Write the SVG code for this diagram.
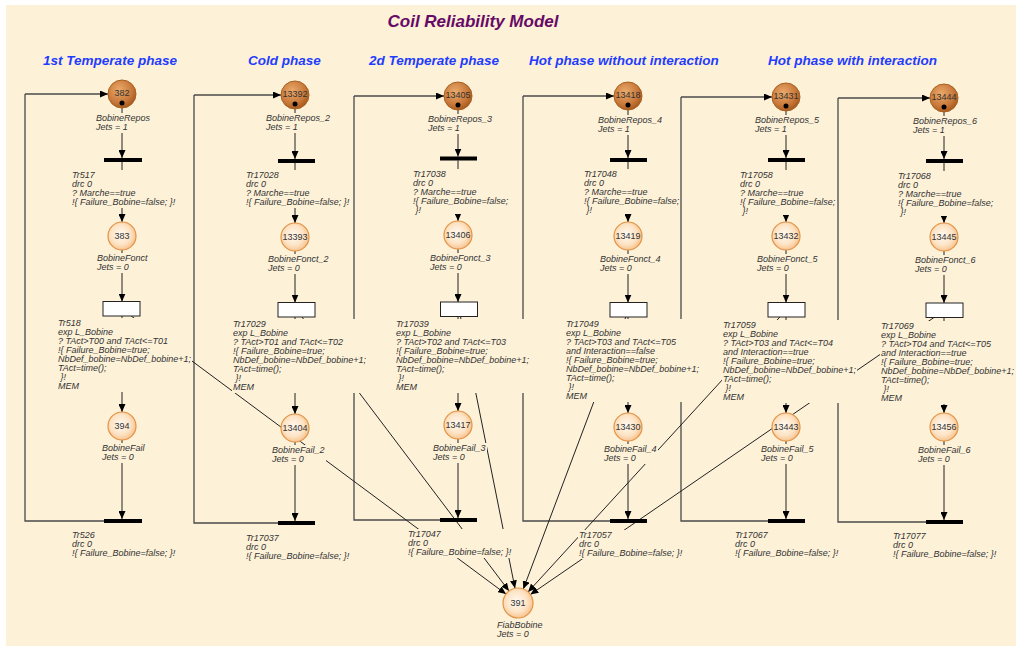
<svg xmlns="http://www.w3.org/2000/svg" width="1020" height="648" viewBox="0 0 1020 648">
<defs>
<style>
.bg{fill:#fdf1d8}
.tb{fill:#fdf1d8}
.l{font-family:"Liberation Sans",Arial,sans-serif;font-size:9px;font-style:italic;fill:#333}
.num{font-family:"Liberation Sans",Arial,sans-serif;font-size:9px;fill:#333;text-anchor:middle}
.c{stroke:#222;stroke-width:1;fill:none}
.loop{stroke:#4a4a4a;stroke-width:1.3;fill:none}
.bar{fill:#000}
.rx{fill:#fff;stroke:#222;stroke-width:1}
.pm{fill:url(#gm);stroke:#a8611f;stroke-width:1}
.pu{fill:url(#gu);stroke:#e39346;stroke-width:1.2}
.tok{fill:#000}
.hdr{font-family:"Liberation Sans",Arial,sans-serif;font-size:13.5px;font-weight:bold;font-style:italic;fill:#1f3cff;text-anchor:middle}
.title{font-family:"Liberation Sans",Arial,sans-serif;font-size:17px;font-weight:bold;font-style:italic;fill:#660a66;text-anchor:middle}
</style>
<radialGradient id="gm" cx="40%" cy="35%" r="65%">
<stop offset="0" stop-color="#eaaa6a"/>
<stop offset="0.7" stop-color="#c8783a"/>
<stop offset="1" stop-color="#aa5c20"/>
</radialGradient>
<radialGradient id="gu" cx="45%" cy="45%" r="60%">
<stop offset="0" stop-color="#fffaf2"/>
<stop offset="0.6" stop-color="#fde3c4"/>
<stop offset="1" stop-color="#f6bd84"/>
</radialGradient>
<marker id="ah" markerUnits="userSpaceOnUse" markerWidth="8" markerHeight="7" refX="8" refY="3.5" orient="auto">
<path d="M0,0 L8,3.5 L0,7 z" fill="#000"/>
</marker>
</defs>
<rect x="0" y="0" width="1020" height="648" fill="#fff"/>
<rect class="bg" x="6" y="5" width="1010" height="641"/>
<text class="title" x="473" y="27">Coil Reliability Model</text>
<text class="hdr" x="110" y="65">1st Temperate phase</text>
<text class="hdr" x="284.5" y="65">Cold phase</text>
<text class="hdr" x="434" y="65">2d Temperate phase</text>
<text class="hdr" x="624" y="65">Hot phase without interaction</text>
<text class="hdr" x="852.5" y="65">Hot phase with interaction</text>

<g id="connectors">
<!-- loops -->
<polyline class="loop" points="104,521 25,521 25,94" />
<line class="loop" x1="25" y1="94" x2="108" y2="94" marker-end="url(#ah)"/>
<polyline class="loop" points="278,523 194,523 194,95"/>
<line class="loop" x1="194" y1="95" x2="281" y2="95" marker-end="url(#ah)"/>
<polyline class="loop" points="440,520 354,520 354,96"/>
<line class="loop" x1="354" y1="96" x2="444" y2="96" marker-end="url(#ah)"/>
<polyline class="loop" points="610,521 523,521 523,96"/>
<line class="loop" x1="523" y1="96" x2="614" y2="96" marker-end="url(#ah)"/>
<polyline class="loop" points="768,521 681,521 681,97"/>
<line class="loop" x1="681" y1="97" x2="772" y2="97" marker-end="url(#ah)"/>
<polyline class="loop" points="926,522 838,522 838,98"/>
<line class="loop" x1="838" y1="98" x2="930" y2="98" marker-end="url(#ah)"/>
<!-- column 1 -->
<line class="c" x1="122" y1="108" x2="122" y2="158" marker-end="url(#ah)"/>
<line class="c" x1="122" y1="162" x2="122" y2="222" marker-end="url(#ah)"/>
<line class="c" x1="122" y1="250" x2="122" y2="301.5" marker-end="url(#ah)"/>
<line class="c" x1="122" y1="316" x2="122" y2="412" marker-end="url(#ah)"/>
<line class="c" x1="122" y1="440" x2="122" y2="519" marker-end="url(#ah)"/>
<!-- column 2 -->
<line class="c" x1="295" y1="109" x2="295" y2="159" marker-end="url(#ah)"/>
<line class="c" x1="295" y1="163" x2="295" y2="223" marker-end="url(#ah)"/>
<line class="c" x1="295" y1="251" x2="295" y2="302.5" marker-end="url(#ah)"/>
<line class="c" x1="295" y1="317" x2="295" y2="414" marker-end="url(#ah)"/>
<line class="c" x1="295" y1="442" x2="295" y2="521" marker-end="url(#ah)"/>
<!-- column 3 -->
<line class="c" x1="458" y1="110" x2="458" y2="156.5" marker-end="url(#ah)"/>
<line class="c" x1="458" y1="160.5" x2="458" y2="221" marker-end="url(#ah)"/>
<line class="c" x1="458" y1="249" x2="458" y2="302" marker-end="url(#ah)"/>
<line class="c" x1="458" y1="316.5" x2="458" y2="411" marker-end="url(#ah)"/>
<line class="c" x1="458" y1="439" x2="458" y2="518" marker-end="url(#ah)"/>
<!-- column 4 -->
<line class="c" x1="628" y1="110" x2="628" y2="158" marker-end="url(#ah)"/>
<line class="c" x1="628" y1="162" x2="628" y2="222" marker-end="url(#ah)"/>
<line class="c" x1="628" y1="250" x2="628" y2="302.5" marker-end="url(#ah)"/>
<line class="c" x1="628" y1="317" x2="628" y2="413" marker-end="url(#ah)"/>
<line class="c" x1="628" y1="441" x2="628" y2="519" marker-end="url(#ah)"/>
<!-- column 5 -->
<line class="c" x1="786" y1="111" x2="786" y2="158" marker-end="url(#ah)"/>
<line class="c" x1="786" y1="162" x2="786" y2="222" marker-end="url(#ah)"/>
<line class="c" x1="786" y1="250" x2="786" y2="302.5" marker-end="url(#ah)"/>
<line class="c" x1="786" y1="317" x2="786" y2="413" marker-end="url(#ah)"/>
<line class="c" x1="786" y1="441" x2="786" y2="519" marker-end="url(#ah)"/>
<!-- column 6 -->
<line class="c" x1="944" y1="112" x2="944" y2="159" marker-end="url(#ah)"/>
<line class="c" x1="944" y1="163" x2="944" y2="223" marker-end="url(#ah)"/>
<line class="c" x1="944" y1="251" x2="944" y2="303" marker-end="url(#ah)"/>
<line class="c" x1="944" y1="317.5" x2="944" y2="413" marker-end="url(#ah)"/>
<line class="c" x1="944" y1="441" x2="944" y2="520" marker-end="url(#ah)"/>
<!-- to FiabBobine -->
<line class="c" x1="121.5" y1="308.75" x2="506" y2="594.1" marker-end="url(#ah)"/>
<line class="c" x1="296.5" y1="309.75" x2="509" y2="591" marker-end="url(#ah)"/>
<line class="c" x1="459" y1="309.25" x2="515" y2="588.3" marker-end="url(#ah)"/>
<line class="c" x1="628.5" y1="309.75" x2="523.3" y2="589" marker-end="url(#ah)"/>
<line class="c" x1="786.5" y1="309.75" x2="528.1" y2="591.9" marker-end="url(#ah)"/>
<line class="c" x1="944.5" y1="310.25" x2="530.4" y2="594.5" marker-end="url(#ah)"/>
</g>

<!-- ===== Column 1 ===== -->
<g id="p382">
<circle class="pm" cx="122" cy="94" r="14"/>
<text class="num" x="122" y="96">382</text>
<circle class="tok" cx="122" cy="103" r="2.5"/>
<rect class="tb" x="95" y="113" width="56" height="20"/>
<text class="l" x="96" y="121">BobineRepos<tspan x="96" dy="9">Jets = 1</tspan></text>
</g>
<g id="tr517">
<rect class="bar" x="104" y="158" width="38" height="4"/>
<rect class="tb" x="71" y="170" width="105" height="38"/>
<text class="l" x="72" y="178">Tr517<tspan x="72" dy="9">drc 0</tspan><tspan x="72" dy="9">? Marche==true</tspan><tspan x="72" dy="9">!{ Failure_Bobine=false; }!</tspan></text>
</g>
<g id="p383">
<circle class="pu" cx="122" cy="236" r="14"/>
<text class="num" x="122" y="239">383</text>
<rect class="tb" x="96" y="253" width="53" height="20"/>
<text class="l" x="97" y="261">BobineFonct<tspan x="97" dy="9">Jets = 0</tspan></text>
</g>
<g id="tr518">
<rect class="rx" x="103" y="301.5" width="37" height="14.5"/>
<rect class="tb" x="57" y="318" width="135" height="74"/>
<text class="l" x="58" y="326">Tr518<tspan x="58" dy="9">exp L_Bobine</tspan><tspan x="58" dy="9">? TAct&gt;T00 and TAct&lt;=T01</tspan><tspan x="58" dy="9">!{ Failure_Bobine=true;</tspan><tspan x="58" dy="9">NbDef_bobine=NbDef_bobine+1;</tspan><tspan x="58" dy="9">TAct=time();</tspan><tspan x="60.5" dy="9">}!</tspan><tspan x="58" dy="9">MEM</tspan></text>
</g>
<g id="p394">
<circle class="pu" cx="122" cy="426" r="14"/>
<text class="num" x="122" y="429">394</text>
<rect class="tb" x="101" y="443" width="45" height="20"/>
<text class="l" x="102" y="451">BobineFail<tspan x="102" dy="9">Jets = 0</tspan></text>
</g>
<g id="tr526">
<rect class="bar" x="104" y="519" width="38" height="4"/>
<rect class="tb" x="71" y="530" width="105" height="29"/>
<text class="l" x="72" y="538">Tr526<tspan x="72" dy="9">drc 0</tspan><tspan x="72" dy="9">!{ Failure_Bobine=false; }!</tspan></text>
</g>

<!-- ===== Column 2 ===== -->
<g id="p13392">
<circle class="pm" cx="295" cy="95" r="14"/>
<text class="num" x="295" y="97">13392</text>
<circle class="tok" cx="295" cy="104" r="2.5"/>
<rect class="tb" x="265" y="113" width="66" height="20"/>
<text class="l" x="266" y="121">BobineRepos_2<tspan x="266" dy="9">Jets = 1</tspan></text>
</g>
<g id="tr17028">
<rect class="bar" x="278" y="159" width="37" height="4"/>
<rect class="tb" x="245" y="170" width="105" height="38"/>
<text class="l" x="246" y="178">Tr17028<tspan x="246" dy="9">drc 0</tspan><tspan x="246" dy="9">? Marche==true</tspan><tspan x="246" dy="9">!{ Failure_Bobine=false; }!</tspan></text>
</g>
<g id="p13393">
<circle class="pu" cx="295" cy="237" r="14"/>
<text class="num" x="295" y="240">13393</text>
<rect class="tb" x="267" y="254" width="63" height="20"/>
<text class="l" x="268" y="262">BobineFonct_2<tspan x="268" dy="9">Jets = 0</tspan></text>
</g>
<g id="tr17029">
<rect class="rx" x="278" y="302.5" width="37" height="14.5"/>
<rect class="tb" x="232" y="319" width="135" height="74"/>
<text class="l" x="233" y="327">Tr17029<tspan x="233" dy="9">exp L_Bobine</tspan><tspan x="233" dy="9">? TAct&gt;T01 and TAct&lt;=T02</tspan><tspan x="233" dy="9">!{ Failure_Bobine=true;</tspan><tspan x="233" dy="9">NbDef_bobine=NbDef_bobine+1;</tspan><tspan x="233" dy="9">TAct=time();</tspan><tspan x="235.5" dy="9">}!</tspan><tspan x="233" dy="9">MEM</tspan></text>
</g>
<g id="p13404">
<circle class="pu" cx="295" cy="428" r="14"/>
<text class="num" x="295" y="431">13404</text>
<rect class="tb" x="271" y="445" width="55" height="20"/>
<text class="l" x="272" y="453">BobineFail_2<tspan x="272" dy="9">Jets = 0</tspan></text>
</g>
<g id="tr17037">
<rect class="bar" x="278" y="521" width="37" height="4"/>
<rect class="tb" x="245" y="533" width="105" height="29"/>
<text class="l" x="246" y="541">Tr17037<tspan x="246" dy="9">drc 0</tspan><tspan x="246" dy="9">!{ Failure_Bobine=false; }!</tspan></text>
</g>

<!-- ===== Column 3 ===== -->
<g id="p13405">
<circle class="pm" cx="458" cy="96" r="14"/>
<text class="num" x="458" y="98">13405</text>
<circle class="tok" cx="458" cy="105" r="2.5"/>
<rect class="tb" x="427" y="114" width="66" height="20"/>
<text class="l" x="428" y="122">BobineRepos_3<tspan x="428" dy="9">Jets = 1</tspan></text>
</g>
<g id="tr17038">
<rect class="bar" x="440" y="156.5" width="37" height="4"/>
<rect class="tb" x="412" y="169" width="97" height="45"/>
<text class="l" x="413" y="177">Tr17038<tspan x="413" dy="9">drc 0</tspan><tspan x="413" dy="9">? Marche==true</tspan><tspan x="413" dy="9">!{ Failure_Bobine=false;</tspan><tspan x="415.5" dy="9">}!</tspan></text>
</g>
<g id="p13406">
<circle class="pu" cx="458" cy="235" r="14"/>
<text class="num" x="458" y="238">13406</text>
<rect class="tb" x="429" y="253" width="63" height="20"/>
<text class="l" x="430" y="261">BobineFonct_3<tspan x="430" dy="9">Jets = 0</tspan></text>
</g>
<g id="tr17039">
<rect class="rx" x="440.5" y="302" width="37" height="14.5"/>
<rect class="tb" x="395" y="319" width="135" height="74"/>
<text class="l" x="396" y="327">Tr17039<tspan x="396" dy="9">exp L_Bobine</tspan><tspan x="396" dy="9">? TAct&gt;T02 and TAct&lt;=T03</tspan><tspan x="396" dy="9">!{ Failure_Bobine=true;</tspan><tspan x="396" dy="9">NbDef_bobine=NbDef_bobine+1;</tspan><tspan x="396" dy="9">TAct=time();</tspan><tspan x="398.5" dy="9">}!</tspan><tspan x="396" dy="9">MEM</tspan></text>
</g>
<g id="p13417">
<circle class="pu" cx="458" cy="425" r="14"/>
<text class="num" x="458" y="428">13417</text>
<rect class="tb" x="432" y="443" width="55" height="20"/>
<text class="l" x="433" y="451">BobineFail_3<tspan x="433" dy="9">Jets = 0</tspan></text>
</g>
<g id="tr17047">
<rect class="bar" x="440" y="518" width="37" height="4"/>
<rect class="tb" x="407" y="529" width="105" height="29"/>
<text class="l" x="408" y="537">Tr17047<tspan x="408" dy="9">drc 0</tspan><tspan x="408" dy="9">!{ Failure_Bobine=false; }!</tspan></text>
</g>

<!-- ===== Column 4 ===== -->
<g id="p13418">
<circle class="pm" cx="628" cy="96" r="14"/>
<text class="num" x="628" y="98">13418</text>
<circle class="tok" cx="628" cy="105" r="2.5"/>
<rect class="tb" x="597" y="115" width="66" height="20"/>
<text class="l" x="598" y="123">BobineRepos_4<tspan x="598" dy="9">Jets = 1</tspan></text>
</g>
<g id="tr17048">
<rect class="bar" x="610" y="158" width="37" height="4"/>
<rect class="tb" x="583" y="169" width="97" height="45"/>
<text class="l" x="584" y="177">Tr17048<tspan x="584" dy="9">drc 0</tspan><tspan x="584" dy="9">? Marche==true</tspan><tspan x="584" dy="9">!{ Failure_Bobine=false;</tspan><tspan x="586.5" dy="9">}!</tspan></text>
</g>
<g id="p13419">
<circle class="pu" cx="628" cy="236" r="14"/>
<text class="num" x="628" y="239">13419</text>
<rect class="tb" x="599" y="254" width="63" height="20"/>
<text class="l" x="600" y="262">BobineFonct_4<tspan x="600" dy="9">Jets = 0</tspan></text>
</g>
<g id="tr17049">
<rect class="rx" x="610" y="302.5" width="37" height="14.5"/>
<rect class="tb" x="565" y="319" width="135" height="83"/>
<text class="l" x="566" y="327">Tr17049<tspan x="566" dy="9">exp L_Bobine</tspan><tspan x="566" dy="9">? TAct&gt;T03 and TAct&lt;=T05</tspan><tspan x="566" dy="9">and Interaction==false</tspan><tspan x="566" dy="9">!{ Failure_Bobine=true;</tspan><tspan x="566" dy="9">NbDef_bobine=NbDef_bobine+1;</tspan><tspan x="566" dy="9">TAct=time();</tspan><tspan x="568.5" dy="9">}!</tspan><tspan x="566" dy="9">MEM</tspan></text>
</g>
<g id="p13430">
<circle class="pu" cx="628" cy="427" r="14"/>
<text class="num" x="628" y="430">13430</text>
<rect class="tb" x="603" y="444" width="55" height="20"/>
<text class="l" x="604" y="452">BobineFail_4<tspan x="604" dy="9">Jets = 0</tspan></text>
</g>
<g id="tr17057">
<rect class="bar" x="610" y="519" width="37" height="4"/>
<rect class="tb" x="578" y="530" width="105" height="29"/>
<text class="l" x="579" y="538">Tr17057<tspan x="579" dy="9">drc 0</tspan><tspan x="579" dy="9">!{ Failure_Bobine=false; }!</tspan></text>
</g>

<!-- ===== Column 5 ===== -->
<g id="p13431">
<circle class="pm" cx="786" cy="97" r="14"/>
<text class="num" x="786" y="99">13431</text>
<circle class="tok" cx="786" cy="106" r="2.5"/>
<rect class="tb" x="754" y="115" width="66" height="20"/>
<text class="l" x="755" y="123">BobineRepos_5<tspan x="755" dy="9">Jets = 1</tspan></text>
</g>
<g id="tr17058">
<rect class="bar" x="768" y="158" width="37" height="4"/>
<rect class="tb" x="739" y="170" width="97" height="45"/>
<text class="l" x="740" y="178">Tr17058<tspan x="740" dy="9">drc 0</tspan><tspan x="740" dy="9">? Marche==true</tspan><tspan x="740" dy="9">!{ Failure_Bobine=false;</tspan><tspan x="742.5" dy="9">}!</tspan></text>
</g>
<g id="p13432">
<circle class="pu" cx="786" cy="236" r="14"/>
<text class="num" x="786" y="239">13432</text>
<rect class="tb" x="756" y="254" width="63" height="20"/>
<text class="l" x="757" y="262">BobineFonct_5<tspan x="757" dy="9">Jets = 0</tspan></text>
</g>
<g id="tr17059">
<rect class="rx" x="768" y="302.5" width="37" height="14.5"/>
<rect class="tb" x="722" y="320" width="135" height="83"/>
<text class="l" x="723" y="328">Tr17059<tspan x="723" dy="9">exp L_Bobine</tspan><tspan x="723" dy="9">? TAct&gt;T03 and TAct&lt;=T04</tspan><tspan x="723" dy="9">and Interaction==true</tspan><tspan x="723" dy="9">!{ Failure_Bobine=true;</tspan><tspan x="723" dy="9">NbDef_bobine=NbDef_bobine+1;</tspan><tspan x="723" dy="9">TAct=time();</tspan><tspan x="725.5" dy="9">}!</tspan><tspan x="723" dy="9">MEM</tspan></text>
</g>
<g id="p13443">
<circle class="pu" cx="786" cy="427" r="14"/>
<text class="num" x="786" y="430">13443</text>
<rect class="tb" x="760" y="444" width="55" height="20"/>
<text class="l" x="761" y="452">BobineFail_5<tspan x="761" dy="9">Jets = 0</tspan></text>
</g>
<g id="tr17067">
<rect class="bar" x="768" y="519" width="37" height="4"/>
<rect class="tb" x="734" y="530" width="105" height="29"/>
<text class="l" x="735" y="538">Tr17067<tspan x="735" dy="9">drc 0</tspan><tspan x="735" dy="9">!{ Failure_Bobine=false; }!</tspan></text>
</g>

<!-- ===== Column 6 ===== -->
<g id="p13444">
<circle class="pm" cx="944" cy="98" r="14"/>
<text class="num" x="944" y="100">13444</text>
<circle class="tok" cx="944" cy="107" r="2.5"/>
<rect class="tb" x="912" y="116" width="66" height="20"/>
<text class="l" x="913" y="124">BobineRepos_6<tspan x="913" dy="9">Jets = 1</tspan></text>
</g>
<g id="tr17068">
<rect class="bar" x="926" y="159" width="37" height="4"/>
<rect class="tb" x="897" y="171" width="97" height="45"/>
<text class="l" x="898" y="179">Tr17068<tspan x="898" dy="9">drc 0</tspan><tspan x="898" dy="9">? Marche==true</tspan><tspan x="898" dy="9">!{ Failure_Bobine=false;</tspan><tspan x="900.5" dy="9">}!</tspan></text>
</g>
<g id="p13445">
<circle class="pu" cx="944" cy="237" r="14"/>
<text class="num" x="944" y="240">13445</text>
<rect class="tb" x="914" y="255" width="63" height="20"/>
<text class="l" x="915" y="263">BobineFonct_6<tspan x="915" dy="9">Jets = 0</tspan></text>
</g>
<g id="tr17069">
<rect class="rx" x="926" y="303" width="37" height="14.5"/>
<rect class="tb" x="880" y="321" width="135" height="83"/>
<text class="l" x="881" y="329">Tr17069<tspan x="881" dy="9">exp L_Bobine</tspan><tspan x="881" dy="9">? TAct&gt;T04 and TAct&lt;=T05</tspan><tspan x="881" dy="9">and Interaction==true</tspan><tspan x="881" dy="9">!{ Failure_Bobine=true;</tspan><tspan x="881" dy="9">NbDef_bobine=NbDef_bobine+1;</tspan><tspan x="881" dy="9">TAct=time();</tspan><tspan x="883.5" dy="9">}!</tspan><tspan x="881" dy="9">MEM</tspan></text>
</g>
<g id="p13456">
<circle class="pu" cx="944" cy="427" r="14"/>
<text class="num" x="944" y="430">13456</text>
<rect class="tb" x="917" y="445" width="55" height="20"/>
<text class="l" x="918" y="453">BobineFail_6<tspan x="918" dy="9">Jets = 0</tspan></text>
</g>
<g id="tr17077">
<rect class="bar" x="926" y="520" width="37" height="4"/>
<rect class="tb" x="892" y="531" width="105" height="29"/>
<text class="l" x="893" y="539">Tr17077<tspan x="893" dy="9">drc 0</tspan><tspan x="893" dy="9">!{ Failure_Bobine=false; }!</tspan></text>
</g>

<!-- ===== FiabBobine ===== -->
<g id="p391">
<circle class="pu" cx="518" cy="603" r="15"/>
<text class="num" x="518" y="606">391</text>
<rect class="tb" x="496" y="620" width="48" height="20"/>
<text class="l" x="497" y="628">FiabBobine<tspan x="497" dy="9">Jets = 0</tspan></text>
</g>
</svg>
